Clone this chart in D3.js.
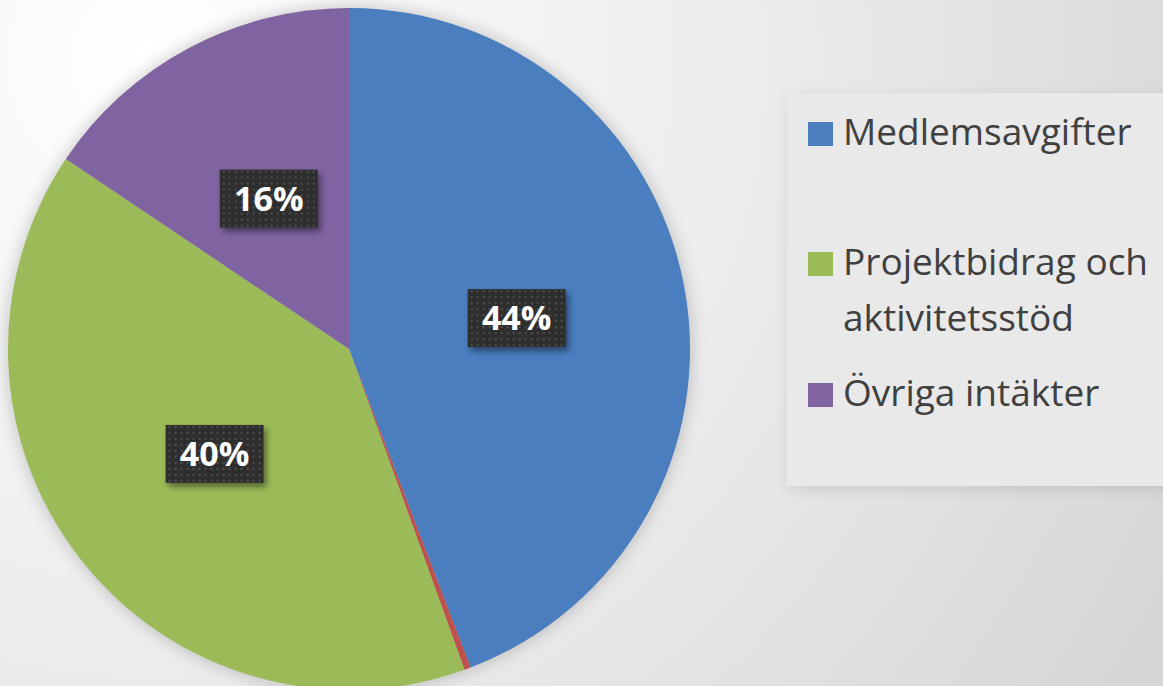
<!DOCTYPE html>
<html>
<head>
<meta charset="utf-8">
<script src="https://cdn.jsdelivr.net/npm/d3@7"></script>
<style>
  html, body { margin: 0; padding: 0; overflow: hidden; }
  body { width: 1163px; height: 686px; }
</style>
</head>
<body>
<div id="chart"></div>
<script>
// data
var categories = ["Medlemsavgifter", "", "Projektbidrag och aktivitetsstöd", "Övriga intäkter"];
var values = [44.2, 0.3, 39.9, 15.6];
var labels = ["44%", "", "40%", "16%"];
var colors = ["#4a7ebf", "#c0504d", "#9bbb59", "#8064a2"];
var legendLines = [["Medlemsavgifter"], ["Projektbidrag och", "aktivitetsstöd"], ["Övriga intäkter"]];
var legendIdx = [0, 2, 3];

var width = 1163, height = 686;
var cx = 349, cy = 349, r = 341;

var svg = d3.select("#chart").append("svg")
    .attr("width", width)
    .attr("height", height);

var defs = svg.append("defs");

///////// background

var bg = defs.append("radialGradient")
    .attr("id", "bg")
    .attr("gradientUnits", "userSpaceOnUse")
    .attr("cx", 150).attr("cy", 60).attr("r", 1150);
bg.append("stop").attr("offset", "0%").attr("stop-color", "#ffffff");
bg.append("stop").attr("offset", "55%").attr("stop-color", "#ebebeb");
bg.append("stop").attr("offset", "100%").attr("stop-color", "#d6d6d6");

svg.append("rect")
    .attr("width", width)
    .attr("height", height)
    .attr("fill", "url(#bg)");

var blur = defs.append("filter")
    .attr("id", "soft")
    .attr("x", "-20%").attr("y", "-20%").attr("width", "140%").attr("height", "140%");
blur.append("feGaussianBlur").attr("stdDeviation", 8);

var shadow = defs.append("filter")
    .attr("id", "lblshadow")
    .attr("x", "-30%").attr("y", "-30%").attr("width", "160%").attr("height", "170%");
shadow.append("feDropShadow")
    .attr("dx", 3).attr("dy", 4).attr("stdDeviation", 3)
    .attr("flood-color", "#000").attr("flood-opacity", 0.45);

var dots = defs.append("pattern")
    .attr("id", "dots")
    .attr("patternUnits", "userSpaceOnUse")
    .attr("width", 6).attr("height", 6);
dots.append("rect").attr("width", 6).attr("height", 6).attr("fill", "#2f2f2f");
dots.append("circle").attr("cx", 3).attr("cy", 3).attr("r", 1).attr("fill", "#555");

///////// legend box

var legend = svg.append("g");

legend.append("rect")
    .attr("x", 790).attr("y", 98)
    .attr("width", 390).attr("height", 390)
    .attr("fill", "#000")
    .attr("opacity", 0.12)
    .attr("filter", "url(#soft)");

legend.append("rect")
    .attr("x", 787).attr("y", 93)
    .attr("width", 380).attr("height", 393)
    .attr("fill", "#e9e9e9");

var legendY = [145, 275, 406];

legendIdx.forEach(function(ci, i) {
  legend.append("rect")
      .attr("x", 808)
      .attr("y", legendY[i] - 23)
      .attr("width", 25)
      .attr("height", 24)
      .attr("fill", colors[ci]);
  legendLines[i].forEach(function(line, j) {
    legend.append("text")
        .attr("x", 843)
        .attr("y", legendY[i] + j * 56)
        .attr("font-family", "'Open Sans', sans-serif")
        .attr("font-size", 37)
        .attr("fill", "#404040")
        .text(line);
  });
});

///////// pie

var g = svg.append("g")
    .attr("transform", "translate(" + cx + "," + cy + ")");

g.append("circle")
    .attr("r", r + 2)
    .attr("fill", "#000")
    .attr("opacity", 0.18)
    .attr("filter", "url(#soft)");

var pie = d3.pie().sort(null).value(function(d) { return d; });
var arc = d3.arc().innerRadius(0).outerRadius(r);
var arcs = pie(values);

g.selectAll("path.slice")
    .data(arcs)
  .enter().append("path")
    .attr("class", "slice")
    .attr("d", arc)
    .attr("fill", function(d, i) { return colors[i]; });

///////// data labels

var lbl = g.selectAll("g.lbl")
    .data(arcs.filter(function(d, i) { return labels[i] !== ""; }))
  .enter().append("g")
    .attr("class", "lbl")
    .attr("transform", function(d) { return "translate(" + arc.centroid(d) + ")"; });

lbl.append("rect")
    .attr("x", -49).attr("y", -29)
    .attr("width", 98).attr("height", 58)
    .attr("fill", "url(#dots)")
    .attr("filter", "url(#lblshadow)");

lbl.append("text")
    .attr("text-anchor", "middle")
    .attr("dy", "0.36em")
    .attr("font-family", "'Open Sans', sans-serif")
    .attr("font-weight", "bold")
    .attr("font-size", 34)
    .attr("fill", "#ffffff")
    .text(function(d) { return labels[d.index]; });
</script>
</body>
</html>
